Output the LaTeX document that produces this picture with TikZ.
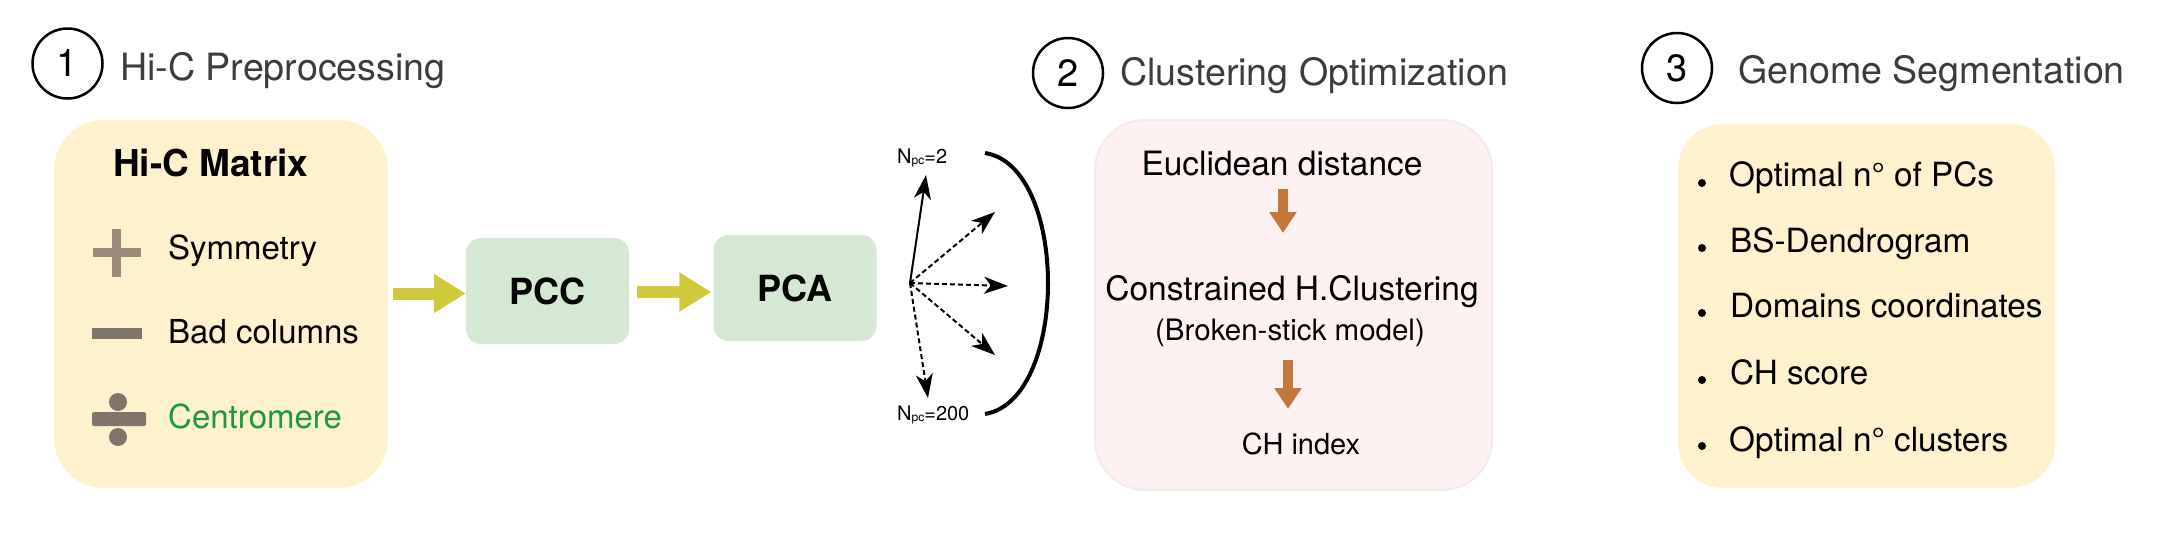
\documentclass[tikz,border=0pt]{standalone}
\usepackage{fontspec}
\setmainfont{TeX Gyre Heros}
\usetikzlibrary{arrows.meta}
\definecolor{boxyellow}{HTML}{FEF1CD}
\definecolor{boxgreen}{HTML}{D5E8D4}
\definecolor{boxpink}{HTML}{FDF1F1}
\definecolor{pinkedge}{HTML}{F0ECEC}
\definecolor{olivearr}{HTML}{CFC93D}
\definecolor{rustarr}{HTML}{C4773B}
\definecolor{taupe}{HTML}{9A8B7A}
\definecolor{taupedark}{HTML}{7F756B}
\definecolor{titlegray}{HTML}{3C3C3C}
\definecolor{cgreen}{HTML}{1E9A3C}
\newcommand{\fsz}[1]{\fontsize{#1}{#1}\selectfont}
\begin{document}
\begin{tikzpicture}[x=1pt,y=-1pt,
  stepnum/.style={circle,draw=black,line width=2.5pt,minimum size=70pt,inner sep=0pt,font=\fsz{38}},
  titletext/.style={anchor=base west,inner sep=0pt,text=titlegray,font=\fsz{37.6}},
  bigbox/.style={rounded corners=#1,inner sep=0pt},
  smallbox/.style={fill=boxgreen,rounded corners=15pt,minimum width=163pt,minimum height=106pt,inner sep=0pt,font=\bfseries\fsz{36}},
  bodytext/.style={anchor=base west,inner sep=0pt,font=\fsz{33}},
  ctext/.style={anchor=base,inner sep=0pt,font=\fsz{#1}},
  olivearrow/.style={draw=olivearr,line width=12pt,-{Triangle[length=32pt,width=37pt]}},
  rustarrow/.style={draw=rustarr,line width=10pt,-{Triangle[length=21pt,width=26pt]}},
  fanline/.style={line width=2pt,-{Stealth[length=24pt,width=17pt,inset=7pt]}},
  fandash/.style={fanline,dash pattern=on 5pt off 3pt},
  npc/.style={anchor=base west,inner sep=0pt,font=\fsz{20}},
  bulletdot/.style={circle,fill=black,inner sep=0pt,minimum size=8pt}
]
\useasboundingbox (0,0) rectangle (2169,536);

% ---------- step 1 ----------
\node[stepnum] (s1) at (67.5,63.5) {1};
\node[titletext] (t1) at (120,80) {Hi-C Preprocessing};
\node[bigbox=50pt,fill=boxyellow,minimum width=334pt,minimum height=368pt] (hic) at (221,304) {};
\node[anchor=base west,inner sep=0pt,font=\bfseries\fsz{37}] (hicm) at (113,176) {Hi-C Matrix};
% plus
\fill[taupe] (93,248) rectangle (141,257);
\fill[taupe] (112,229) rectangle (121,277);
\node[bodytext] (sym) at (168,259) {Symmetry};
% minus
\fill[taupedark] (92,328) rectangle (142,339);
\node[bodytext] (bad) at (168,343) {Bad columns};
% divide
\fill[taupedark,rounded corners=2pt] (92,412) rectangle (146,426);
\fill[taupedark] (118,402) circle (9);
\fill[taupedark] (118,437) circle (9);
\node[bodytext,text=cgreen] (cen) at (168,428) {Centromere};

% ---------- PCC / PCA ----------
\node[smallbox] (pcc) at (547.5,291) {PCC};
\node[smallbox] (pca) at (795,288) {PCA};
\draw[olivearrow,shorten <=5pt] (hic.east |- 0,293.5) -- (pcc.west |- 0,293.5);
\draw[olivearrow,shorten <=8pt,shorten >=2pt] (pcc.east |- 0,292) -- (pca.west |- 0,292);

% ---------- fan ----------
\coordinate (fan) at (910,283);
\coordinate (f1) at (926,175);
\coordinate (f2) at (995,212);
\coordinate (f3) at (1008,286);
\coordinate (f4) at (995,355);
\coordinate (f5) at (928,398);
\draw[fanline] (fan) -- (f1);
\draw[fandash] (fan) -- (f2);
\draw[fandash] (fan) -- (f3);
\draw[fandash] (fan) -- (f4);
\draw[fandash] (fan) -- (f5);
\node[npc] (n2) at (897,163) {N\raisebox{-1pt}{\fsz{12}pc}=2};
\node[npc] (n200) at (897,420) {N\raisebox{-1pt}{\fsz{12}pc}=200};
\coordinate (brtop) at (985,153);
\coordinate (brbot) at (985,414);
\draw[line width=4pt] (brtop) .. controls (1069,166) and (1069,400) .. (brbot);

% ---------- step 2 ----------
\node[stepnum] (s2) at (1068,73) {2};
\node[titletext] (t2) at (1120,85) {Clustering Optimization};
\node[bigbox=50pt,fill=boxpink,draw=pinkedge,line width=2pt,minimum width=397pt,minimum height=370pt] (clu) at (1293.5,305) {};
\node[ctext=33.5] (euc) at (1282,175) {Euclidean distance};
\node[ctext=33.5] (con) at (1292,300) {Constrained H.Clustering};
\node[ctext=29.5] (bsm) at (1290,340) {(Broken-stick model)};
\node[ctext=29] (chi) at (1301,454) {CH index};
\coordinate (a1s) at (1283,189);
\coordinate (a1e) at (1283,233);
\coordinate (a2s) at (1288,360);
\coordinate (a2e) at (1288,409);
\draw[rustarrow] (a1s) -- (a1e);
\draw[rustarrow] (a2s) -- (a2e);

% ---------- step 3 ----------
\node[stepnum] (s3) at (1677,68) {3};
\node[titletext] (t3) at (1738,83) {Genome Segmentation};
\node[bigbox=45pt,fill=boxyellow,minimum width=377pt,minimum height=364pt] (seg) at (1866.5,306) {};
\node[bulletdot] (b1) at (1702,183) {};
\node[bulletdot] (b2) at (1702,248) {};
\node[bulletdot] (b3) at (1702,313) {};
\node[bulletdot] (b4) at (1702,380) {};
\node[bulletdot] (b5) at (1702,446) {};
\node[bodytext,font=\fsz{33.3}] (l1) at (1729,186) {Optimal n° of PCs};
\node[bodytext,font=\fsz{33.3}] (l2) at (1730,252) {BS-Dendrogram};
\node[bodytext,font=\fsz{33.3}] (l3) at (1730,317) {Domains coordinates};
\node[bodytext,font=\fsz{33.3}] (l4) at (1730,384) {CH score};
\node[bodytext,font=\fsz{33.3}] (l5) at (1729,451) {Optimal n° clusters};
\end{tikzpicture}
\end{document}
